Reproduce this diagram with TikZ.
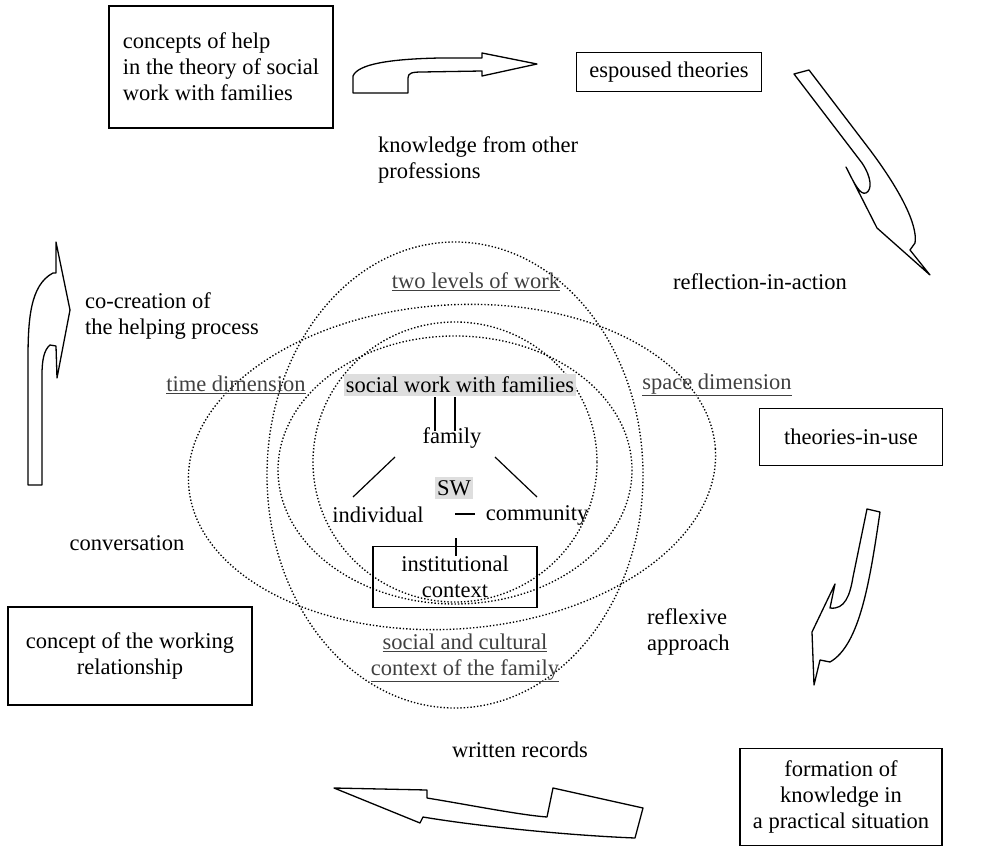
\documentclass[tikz,border=0pt]{standalone}
\usepackage{fontspec}
\setmainfont{Liberation Serif}
\usetikzlibrary{positioning}

\begin{document}
\begin{tikzpicture}[x=1pt,y=-1pt,
    every node/.style={font=\fontsize{22.5}{26}\selectfont,inner sep=0pt},
    boxed/.style={draw,line width=1.4pt,align=center},
    shade/.style={fill=black!13,inner xsep=2pt,inner ysep=3pt},
    tag/.style={text=black!75,align=center},
    ring/.style={dotted,line width=1.35pt},
    bigarrow/.style={draw,line width=1.3pt,line join=round}]
      \useasboundingbox (0,0) rectangle (985,848);
      \foreach \cx/\cy/\rx/\ry/\tilt in {455/475/188/233/0,452/467/264/162/4,455/470/177/134/0,455/462/142/140/0}
      \draw[ring,rotate around={\tilt:(\cx,\cy)}] (\cx,\cy) ellipse ({\rx} and {\ry});
      \node[boxed,minimum width=224pt,minimum height=122pt,align=left] (help) at (221,67)
      {concepts of help\\in the theory of social\\work with families};
      \node[boxed,minimum width=185pt,minimum height=39pt] (espoused) at (669,72) {espoused theories};
      \node[boxed,minimum width=183pt,minimum height=57pt] (inuse) at (851,437) {theories-in-use};
      \node[boxed,minimum width=202pt,minimum height=97pt] (formation) at (841,797)
      {formation of\\knowledge in\\a practical situation};
      \node[boxed,minimum width=244pt,minimum height=98pt] (working) at (130,656)
      {concept of the working\\relationship};
      \node[align=left,anchor=west] (knowledge) at (378,160) {knowledge from other\\professions};
      \node (reflection) at (760,282) {reflection-in-action};
      \node[align=left,anchor=west] (cocreation) at (85,316) {co-creation of\\the helping process};
      \node (conversation) at (127,543) {conversation};
      \node[align=left,anchor=west] (reflexive) at (647,632) {reflexive\\approach};
      \node (records) at (520,750) {written records};
      \node[tag] (twolevels) at (476,282) {\underline{two levels of work}};
      \node[tag] (timedim) at (236,385) {\underline{time dimension}};
      \node[tag] (spacedim) at (717,385) {\underline{space dimension}};
      \node[tag] (culture) at (465,658) {\underline{social and cultural}\\\underline{context of the family}};
      \node[shade] (swf) at (460,385) {social work with families};
      \node (family) at (452,438) {family};
      \node[shade] (sw) at (454,488) {SW};
      \node (individual) at (378,515) {individual};
      \node (community) at (537,515) {community};
      \node[boxed,minimum width=164pt,minimum height=61pt] (institution) at (455,577)
      {institutional\\context};
      \foreach \dx in {-25,-5}
      \draw[line width=1.2pt] ([xshift=\dx pt,yshift=-1pt]swf.south) -- ([xshift=\dx pt,yshift=-4pt]swf.south |- family.north);
      \coordinate (fl) at (395,457);
      \coordinate (il) at (353,497);
      \coordinate (fr) at (495,457);
      \coordinate (cr) at (537,497);
      \draw[line width=1.2pt] (fl) -- (il);
      \draw[line width=1.2pt] (fr) -- (cr);
      \draw[line width=1.2pt] (455,514) -- (475,514);
      \draw[line width=1.2pt] (456,538) -- (institution.north -| 456,0) -- ++(0,10);
      \draw[bigarrow] (353,93) -- (408,93) -- (408,78) .. controls (408,73) and (412,72) .. (422,72)
        -- (482,71) -- (482,76) -- (537,64) -- (482,53) -- (482,58) -- (440,58)
        .. controls (390,59) and (358,64) .. (353,76) -- cycle;
      \draw[bigarrow] (794,74) -- (862,163) .. controls (872,178) and (872,190) .. (866,193)
        .. controls (860,195) and (855,185) .. (846,167) -- (877,228) -- (930,275)
        -- (910,250) -- (915,243) .. controls (918,225) and (900,190) .. (870,150) -- (809,70) -- cycle;
      \draw[bigarrow] (867,509) -- (880,512) .. controls (870,580) and (860,645) .. (830,662)
        -- (820,660) -- (814,685) -- (812,632) -- (835,584) -- (830,608)
        .. controls (845,610) and (850,595) .. (853,577) -- cycle;
      \draw[bigarrow] (334,788) -- (427,790) -- (427,798) .. controls (470,805) and (520,815) .. (547,817)
        -- (553,788) -- (643,808) -- (635,838) .. controls (560,835) and (470,825) .. (423,817)
        -- (420,823) -- cycle;
      \draw[bigarrow] (28,485) -- (28,360) .. controls (28,320) and (30,285) .. (53,273) -- (56,273)
        -- (56,242) -- (70,310) -- (57,378) -- (56,346) -- (50,345)
        .. controls (44,350) and (42,360) .. (42,375) -- (42,485) -- cycle;
\end{tikzpicture}
\end{document}
